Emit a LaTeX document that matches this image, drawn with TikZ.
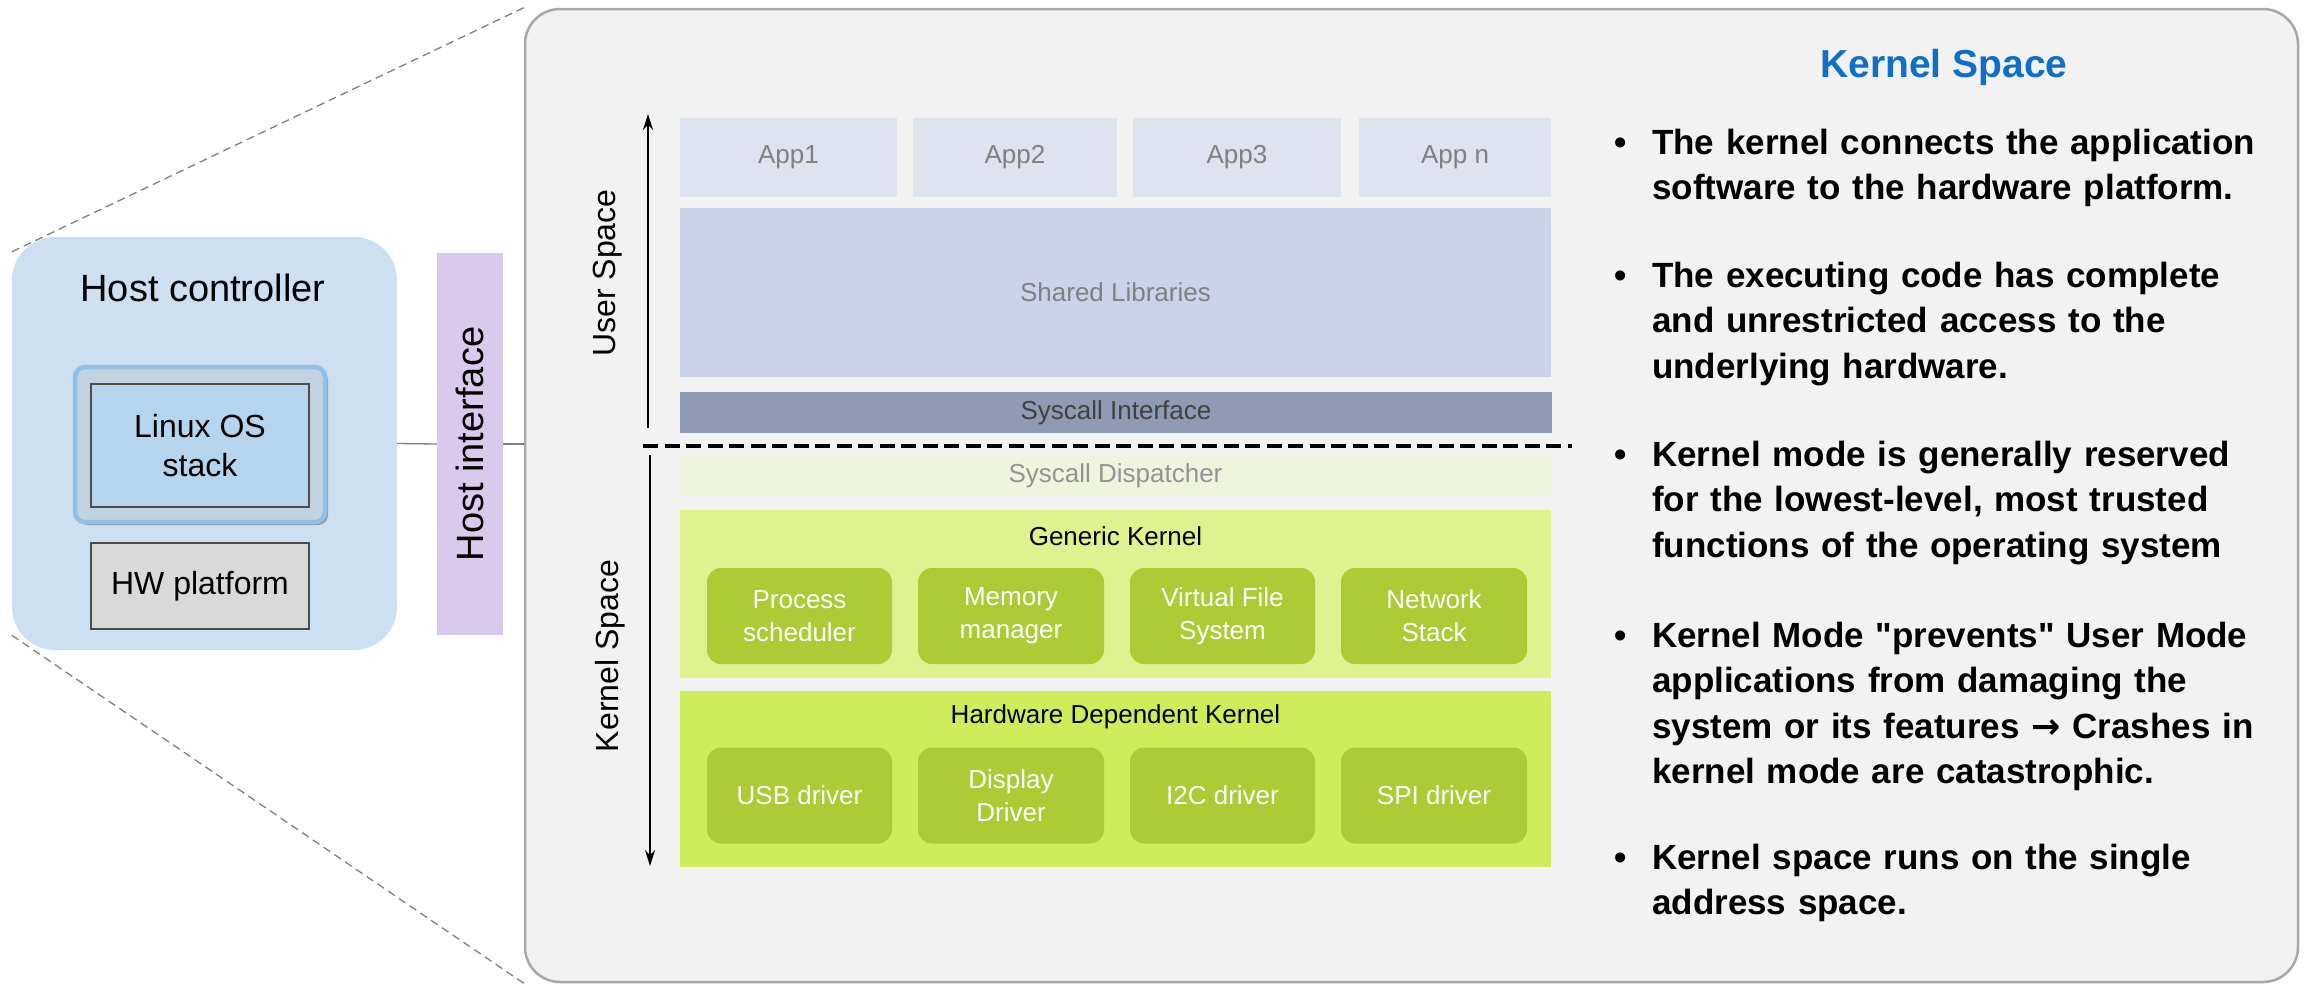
\documentclass[tikz,border=0pt]{standalone}
\usepackage{fontspec}
\setmainfont{Liberation Sans}
\newfontfamily\notefont{Liberation Sans}
\newfontfamily\arrowfont{DejaVu Sans}
\usetikzlibrary{arrows.meta,positioning,shadows}
\definecolor{hostBlue}{RGB}{204,224,241}
\definecolor{osBlue}{RGB}{181,213,238}
\definecolor{osFrame}{RGB}{146,191,230}
\definecolor{hwGray}{RGB}{217,217,217}
\definecolor{ifPurple}{RGB}{217,201,236}
\definecolor{panelGray}{RGB}{242,242,242}
\definecolor{panelEdge}{RGB}{168,168,168}
\definecolor{appFill}{RGB}{223,227,239}
\definecolor{libFill}{RGB}{203,210,234}
\definecolor{sysFill}{RGB}{143,154,181}
\definecolor{dispFill}{RGB}{239,244,221}
\definecolor{genFill}{RGB}{223,242,143}
\definecolor{hwkFill}{RGB}{207,236,91}
\definecolor{modFill}{RGB}{172,203,52}
\definecolor{titleBlue}{RGB}{15,111,198}
\newcommand{\pxfont}[2]{\fontsize{#1}{#2}\selectfont}

\begin{document}
\begin{tikzpicture}[
    x=1pt, y=-1pt,
    >={Stealth[length=16pt,width=10pt]},
    layer/.style={rectangle,inner sep=0pt,font=\pxfont{26}{31},text=gray},
    module/.style={rectangle,rounded corners=14pt,fill=modFill,text=white,inner sep=0pt,
      minimum height=96pt,align=center,font=\pxfont{26}{33}},
    plainbox/.style={rectangle,draw=black!70,line width=1.5pt,inner sep=0pt,align=center,
      font=\pxfont{32}{39}},
    spacelabel/.style={rotate=90,font=\pxfont{32}{36}},
    point/.style={anchor=base west,text width=650pt,align=left,inner sep=0pt,
      font=\notefont\bfseries\pxfont{35}{45.5}},
    zoomline/.style={draw=gray,line width=1.3pt,dash pattern=on 8pt off 5pt}
  ]
  \useasboundingbox (0,0) rectangle (2305,986);

  % host side
  \node[rectangle,rounded corners=43pt,fill=hostBlue,minimum width=385pt,minimum height=413pt]
    (host) at (204.5,443.5) {};
  \node[font=\pxfont{38}{44}] (hosttitle) at (203,288) {Host controller};
  \node[rectangle,rounded corners=10pt,draw=osFrame,line width=4.5pt,fill=hostBlue!85!gray,
    minimum width=250pt,minimum height=155pt,
    drop shadow={shadow xshift=3pt,shadow yshift=-3pt,opacity=0.3,fill=black}]
    (osframe) at (200,444.5) {};
  \node[plainbox,fill=osBlue,minimum width=218pt,minimum height=123pt] (os) at (200,445.5) {Linux OS\\stack};
  \node[plainbox,fill=hwGray,minimum width=218pt,minimum height=86pt] (hw) at (200,586) {HW platform};
  \node[rectangle,rotate=90,fill=ifPurple,minimum width=382pt,minimum height=66pt,
    font=\pxfont{38}{44}] (hostif) at (470,444) {Host interface};

  % kernel space panel
  \node[rectangle,rounded corners=35pt,fill=panelGray,draw=panelEdge,line width=2.5pt,
    minimum width=1773pt,minimum height=973pt] (panel) at (1411.5,495.5) {};
  \draw[zoomline] (panel.north west) -- ([yshift=-15pt]host.north west);
  \draw[zoomline] (panel.south west) -- ([yshift=15pt]host.south west);
  \draw[gray,line width=1.3pt] (host.east) -- (hostif.north);
  \draw[gray,line width=1.3pt] (hostif.south) -- (hostif.south -| panel.west);

  % user space stack
  \node[layer,fill=appFill,minimum width=217pt,minimum height=79pt] (app1) at (788.5,157.5) {App1};
  \node[layer,fill=appFill,minimum width=204pt,minimum height=79pt] (app2) at (1015,157.5) {App2};
  \node[layer,fill=appFill,minimum width=208pt,minimum height=79pt] (app3) at (1237,157.5) {App3};
  \node[layer,fill=appFill,minimum width=192pt,minimum height=79pt] (appn) at (1455,157.5) {App n};
  \node[layer,fill=libFill,minimum width=871pt,minimum height=169pt] (libs) at (1115.5,292.5) {Shared Libraries};
  \node[layer,fill=sysFill,text=black!75,minimum width=872pt,minimum height=41pt] (sysif) at (1116,412.5) {Syscall Interface};

  % user / kernel boundary
  \coordinate (divL) at (643,446);
  \coordinate (divR) at (1572,446);
  \draw[line width=4pt,dash pattern=on 15pt off 6.5pt] (divL) -- (divR);
  \coordinate (userbot) at (648,428);
  \coordinate (usertop) at (648,114);
  \draw[->,line width=2pt] (userbot) -- (usertop);
  \coordinate (kerntop) at (650,455);
  \coordinate (kernbot) at (650,866);
  \draw[->,line width=2pt] (kerntop) -- (kernbot);
  \node[spacelabel] (userlbl) at (608,273) {User Space};
  \node[spacelabel] (kernlbl) at (610,656) {Kernel Space};

  % kernel space stack
  \node[layer,fill=dispFill,text=gray!85,minimum width=871pt,minimum height=39pt] (disp) at (1115.5,475.5) {Syscall Dispatcher};
  \node[layer,fill=genFill,minimum width=871pt,minimum height=168pt] (generic) at (1115.5,594) {};
  \node[font=\pxfont{26}{31}] (gentitle) at (1115.5,536) {Generic Kernel};
  \node[module,minimum width=185pt] (sched) at (799.5,616) {Process\\scheduler};
  \node[module,minimum width=186pt] (mem) at (1011,616) {Memory\\manager};
  \node[module,minimum width=185pt] (vfs) at (1222.5,616) {Virtual File\\System};
  \node[module,minimum width=186pt] (net) at (1434,616) {Network\\Stack};
  \node[layer,fill=hwkFill,minimum width=871pt,minimum height=176pt] (hwkernel) at (1115.5,779) {};
  \node[font=\pxfont{26}{31}] (hwktitle) at (1115.5,717) {Hardware Dependent Kernel};
  \node[module,minimum width=185pt] (usb) at (799.5,795.5) {USB driver};
  \node[module,minimum width=186pt] (display) at (1011,795.5) {Display\\Driver};
  \node[module,minimum width=185pt] (i2c) at (1222.5,795.5) {I2C driver};
  \node[module,minimum width=186pt] (spi) at (1434,795.5) {SPI driver};

  % notes
  \node[anchor=base,font=\bfseries\pxfont{39}{45},text=titleBlue] (title) at (1944,77) {Kernel Space};
  \node[point] (p1) at (1652,154) {\llap{\textbullet\hspace{25pt}}The kernel connects the application\\software to the hardware platform.};
  \node[point] (p2) at (1652,287) {\llap{\textbullet\hspace{25pt}}The executing code has complete\\and unrestricted access to the\\underlying hardware.};
  \node[point] (p3) at (1652,466) {\llap{\textbullet\hspace{25pt}}Kernel mode is generally reserved\\for the lowest-level, most trusted\\functions of the operating system};
  \node[point] (p4) at (1652,647) {\llap{\textbullet\hspace{25pt}}Kernel Mode "prevents" User Mode\\applications from damaging the\\system or its features {\arrowfont\bfseries →} Crashes in\\kernel mode are catastrophic.};
  \node[point] (p5) at (1652,869) {\llap{\textbullet\hspace{25pt}}Kernel space runs on the single\\address space.};
\end{tikzpicture}
\end{document}
